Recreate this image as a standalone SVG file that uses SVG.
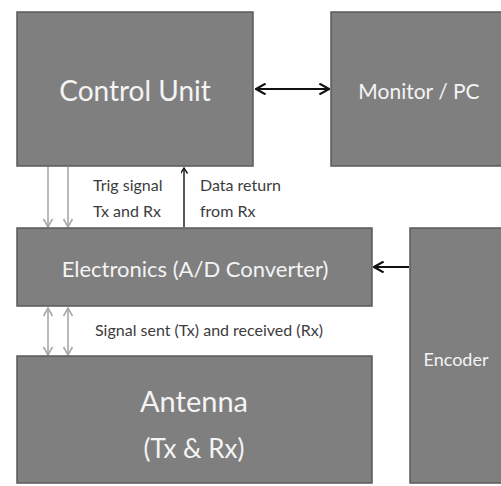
<svg xmlns="http://www.w3.org/2000/svg" width="501" height="486" viewBox="0 0 501 486">
  <defs>
    <style>
      .box { fill: #7f7f7f; stroke: #5a5a5a; stroke-width: 1.5; }
      .big { font-family: Lato, "Open Sans", sans-serif; fill: #f4f4f4; text-anchor: middle; }
      .lbl { font-family: Lato, "Open Sans", sans-serif; fill: #3c3c3c; font-size: 16px; }
      .dark { stroke: #111; stroke-width: 2; fill: none; }
      .thin { stroke: #222; stroke-width: 1.5; fill: none; }
      .grey { stroke: #a8a8a8; stroke-width: 1.6; fill: none; }
    </style>
    <marker id="headDark" viewBox="0 0 10 10" refX="9" refY="5" markerWidth="7" markerHeight="7" markerUnits="userSpaceOnUse" orient="auto-start-reverse">
      <path d="M1,0 L9,5 L1,10" fill="none" stroke="#111" stroke-width="2"/>
    </marker>
    <marker id="headDarkBig" viewBox="0 0 10 10" refX="9" refY="5" markerWidth="12" markerHeight="12" markerUnits="userSpaceOnUse" orient="auto-start-reverse">
      <path d="M1,0.5 L9,5 L1,9.5" fill="none" stroke="#111" stroke-width="1.8"/>
    </marker>
    <marker id="headGrey" viewBox="0 0 10 10" refX="9" refY="5" markerWidth="10" markerHeight="10" markerUnits="userSpaceOnUse" orient="auto-start-reverse">
      <path d="M1,0.5 L9,5 L1,9.5" fill="none" stroke="#a8a8a8" stroke-width="1.6"/>
    </marker>
  </defs>

  <rect width="501" height="486" fill="#ffffff"/>

  <!-- connectors -->
  <g id="connectors">
    <line class="dark" x1="256" y1="89" x2="329" y2="89" marker-start="url(#headDarkBig)" marker-end="url(#headDarkBig)"/>
    <line class="dark" x1="409" y1="267" x2="374" y2="267" marker-end="url(#headDarkBig)"/>
    <line class="grey" x1="48" y1="167" x2="48" y2="227" marker-end="url(#headGrey)"/>
    <line class="grey" x1="68" y1="167" x2="68" y2="227" marker-end="url(#headGrey)"/>
    <line class="thin" x1="184" y1="227" x2="184" y2="168" marker-end="url(#headDark)"/>
    <line class="grey" x1="48" y1="308" x2="48" y2="355" marker-start="url(#headGrey)" marker-end="url(#headGrey)"/>
    <line class="grey" x1="68" y1="308" x2="68" y2="355" marker-start="url(#headGrey)" marker-end="url(#headGrey)"/>
    <text class="lbl" x="93" y="191">Trig signal</text>
    <text class="lbl" x="93" y="217">Tx and Rx</text>
    <text class="lbl" x="200" y="191">Data return</text>
    <text class="lbl" x="200" y="217">from Rx</text>
    <text class="lbl" x="95" y="336" font-size="16.5">Signal sent (Tx) and received (Rx)</text>
  </g>

  <g id="control-unit">
    <rect class="box" x="17" y="12" width="236" height="154"/>
    <text class="big" x="135" y="101" font-size="28">Control Unit</text>
  </g>

  <g id="monitor-pc">
    <rect class="box" x="331" y="12" width="175" height="154"/>
    <text class="big" x="419" y="99" font-size="21">Monitor / PC</text>
  </g>

  <g id="electronics">
    <rect class="box" x="17" y="228" width="355" height="78"/>
    <text class="big" x="195" y="277" font-size="22">Electronics (A/D Converter)</text>
  </g>

  <g id="encoder">
    <rect class="box" x="410" y="228" width="96" height="255"/>
    <text class="big" x="456" y="366" font-size="18">Encoder</text>
  </g>

  <g id="antenna">
    <rect class="box" x="17" y="356" width="355" height="127"/>
    <text class="big" x="194" y="412" font-size="29">Antenna</text>
    <text class="big" x="194" y="458" font-size="26">(Tx &amp; Rx)</text>
  </g>
</svg>
